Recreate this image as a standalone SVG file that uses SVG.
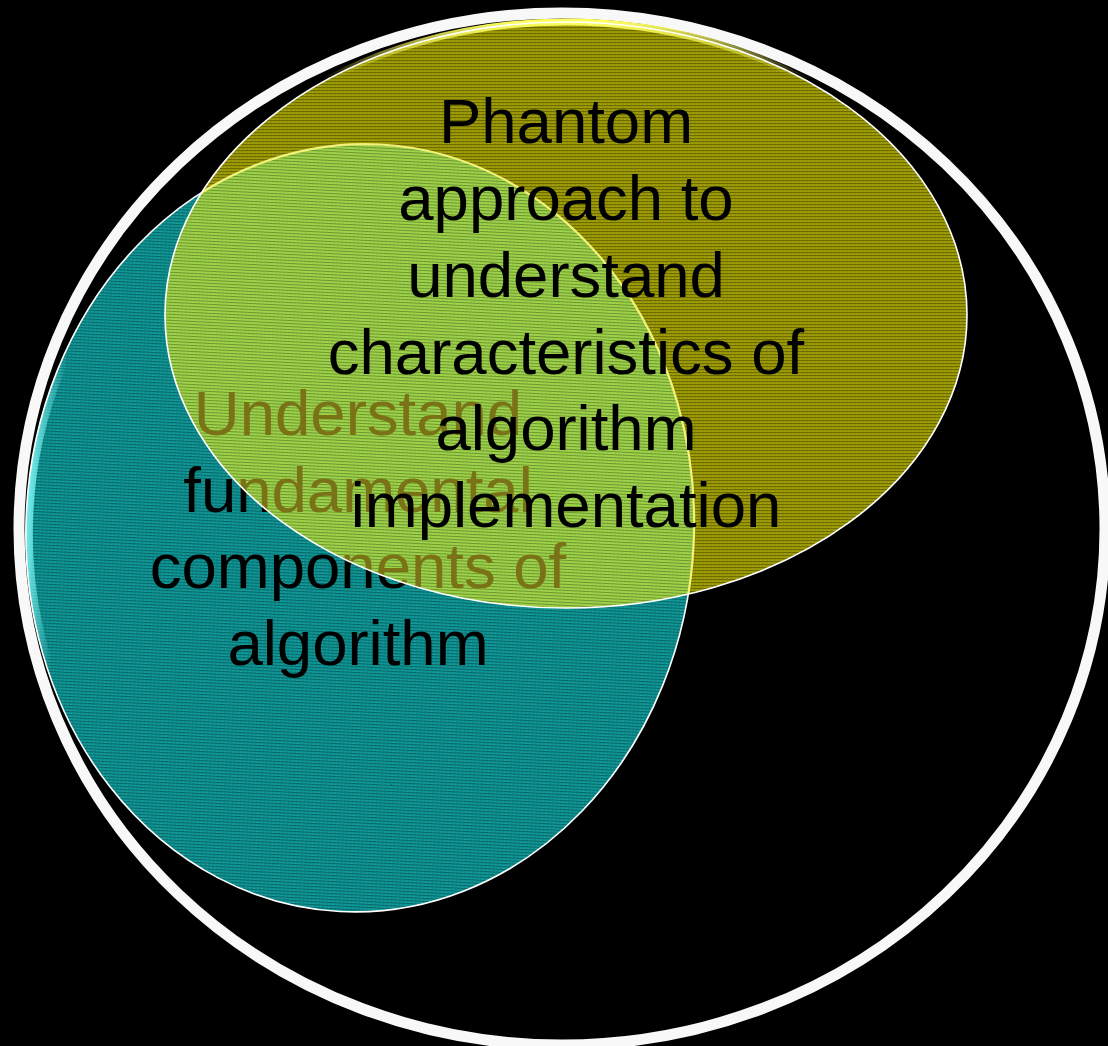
<svg xmlns="http://www.w3.org/2000/svg" width="1108" height="1046" viewBox="0 0 1108 1046">
  <defs>
    <style>
      .lbl { font-family: "Liberation Sans", Arial, sans-serif; font-size: 63.5px; text-anchor: middle; fill: #000000; }
      .lbl-dim { fill: #7a7216; }
      .thin { fill: none; stroke: #ffffff; stroke-width: 1.6; }
    </style>
    <pattern id="stripes" width="4" height="3" patternUnits="userSpaceOnUse">
      <rect x="0" y="0" width="4" height="1" fill="#000000" opacity="0.28"/>
      <rect x="0" y="2" width="2" height="1" fill="#ffffff" opacity="0.10"/>
    </pattern>
    <clipPath id="clipOlive">
      <ellipse cx="566" cy="315" rx="401" ry="293"/>
    </clipPath>
    <clipPath id="clipTeal">
      <ellipse cx="360" cy="528" rx="334" ry="384" transform="rotate(3 360 528)"/>
    </clipPath>
    <linearGradient id="cyanGlow" gradientUnits="userSpaceOnUse" x1="26" y1="0" x2="300" y2="0">
      <stop offset="0" stop-color="#7ff4f4" stop-opacity="0.95"/>
      <stop offset="0.12" stop-color="#7ff4f4" stop-opacity="0"/>
    </linearGradient>
    <linearGradient id="yellowGlow" gradientUnits="userSpaceOnUse" x1="0" y1="22" x2="0" y2="250">
      <stop offset="0" stop-color="#ffff60" stop-opacity="1"/>
      <stop offset="0.25" stop-color="#ffff60" stop-opacity="0"/>
    </linearGradient>
  </defs>

  <rect x="0" y="0" width="1108" height="1046" fill="#000000"/>

  <g id="outer-ring">
    <ellipse cx="562" cy="529" rx="543" ry="516" fill="none" stroke="#f8f8f8" stroke-width="11"/>
  </g>

  <g id="connectors"></g>

  <g id="node-fundamental">
    <ellipse cx="360" cy="528" rx="334" ry="384" transform="rotate(3 360 528)" fill="#0a9191"/>
    <ellipse cx="360" cy="528" rx="334" ry="384" transform="rotate(3 360 528)" fill="url(#stripes)"/>
    <g clip-path="url(#clipTeal)">
      <ellipse cx="360" cy="528" rx="334" ry="384" transform="rotate(3 360 528)" fill="none" stroke="url(#cyanGlow)" stroke-width="14"/>
    </g>
    <ellipse cx="360" cy="528" rx="334" ry="384" transform="rotate(3 360 528)" class="thin"/>
    <text class="lbl" x="358" y="435">Understand</text>
    <text class="lbl" x="358" y="511.5">fundamental</text>
    <text class="lbl" x="358" y="588">components of</text>
    <text class="lbl" x="358" y="664.5">algorithm</text>
  </g>

  <g id="node-phantom">
    <ellipse cx="566" cy="315" rx="401" ry="293" fill="#979500"/>
    <ellipse cx="566" cy="315" rx="401" ry="293" fill="url(#stripes)"/>
    <ellipse cx="566" cy="315" rx="401" ry="293" fill="none" stroke="url(#yellowGlow)" stroke-width="7"/>
  </g>

  <g id="overlap" clip-path="url(#clipOlive)">
    <ellipse cx="360" cy="528" rx="334" ry="384" transform="rotate(3 360 528)" fill="#9ad044"/>
    <ellipse cx="360" cy="528" rx="334" ry="384" transform="rotate(3 360 528)" fill="url(#stripes)"/>
    <text class="lbl lbl-dim" x="358" y="435">Understand</text>
    <text class="lbl lbl-dim" x="358" y="511.5">fundamental</text>
    <text class="lbl lbl-dim" x="358" y="588">components of</text>
    <text class="lbl lbl-dim" x="358" y="664.5">algorithm</text>
    <ellipse cx="360" cy="528" rx="334" ry="384" transform="rotate(3 360 528)" fill="none" stroke="#f2f27a" stroke-width="2.2"/>
  </g>

  <g id="node-phantom-label">
    <ellipse cx="566" cy="315" rx="401" ry="293" class="thin"/>
    <text class="lbl" x="566" y="143">Phantom</text>
    <text class="lbl" x="566" y="220">approach to</text>
    <text class="lbl" x="566" y="297">understand</text>
    <text class="lbl" x="566" y="373.5">characteristics of</text>
    <text class="lbl" x="566" y="450">algorithm</text>
    <text class="lbl" x="566" y="527">implementation</text>
  </g>
</svg>
